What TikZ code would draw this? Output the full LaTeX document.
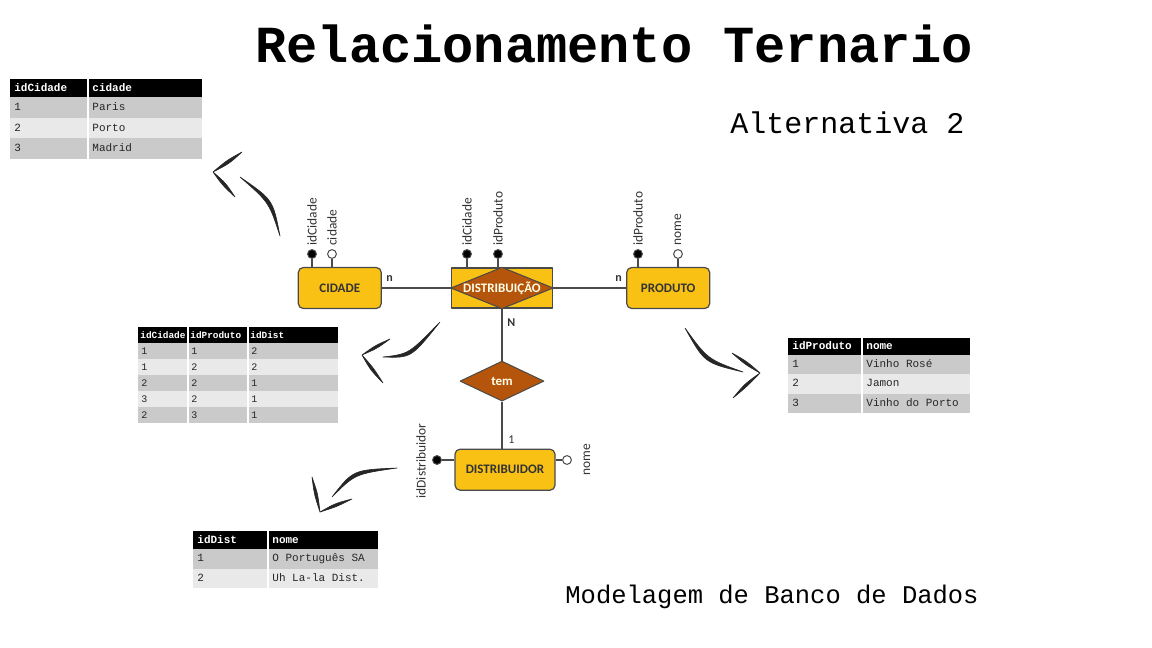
\documentclass[tikz,border=0pt]{standalone}
\usepackage{fontspec}
\setmainfont{Carlito}
\setmonofont{Liberation Mono}
\usetikzlibrary{shapes.geometric, positioning, calc}

\definecolor{erYellow}{HTML}{F8C114}
\definecolor{erBrown}{HTML}{B4550B}
\definecolor{erLine}{HTML}{4A4A4A}
\definecolor{rowDark}{HTML}{CACACA}
\definecolor{rowLight}{HTML}{E9E9E9}
\definecolor{inkGray}{HTML}{333333}

\tikzstyle{entity} = [rectangle, rounded corners=2.5pt, draw=erLine, line width=0.6pt, fill=erYellow, minimum width=41.5pt, minimum height=20.5pt, text=inkGray, font=\fontsize{6.5}{7}\selectfont\bfseries]
\tikzstyle{assoc} = [rectangle, draw=erLine, line width=0.6pt, fill=erYellow, minimum width=50.5pt, minimum height=20pt, inner sep=0pt]
\tikzstyle{relation} = [diamond, draw=erLine, line width=0.5pt, fill=erBrown, minimum width=42pt, minimum height=20pt, inner sep=0pt, text=white!90!yellow, font=\fontsize{6.5}{7}\selectfont\bfseries]
\tikzstyle{reltext} = [inner sep=0pt, text=white!90!yellow, font=\fontsize{6.5}{7}\selectfont\bfseries]
\tikzstyle{attrdot} = [circle, draw=erLine, line width=0.5pt, minimum size=4.4pt, inner sep=0pt]
\tikzstyle{attrname} = [rotate=90, anchor=west, inner sep=1.5pt, text=inkGray, font=\fontsize{6.7}{7}\selectfont]
\tikzstyle{link} = [draw=erLine, line width=0.6pt]
\tikzstyle{card} = [inner sep=1pt, text=inkGray, font=\fontsize{6}{7}\selectfont\bfseries]
\tikzstyle{thead} = [anchor=west, inner sep=0pt, text height=4pt, text depth=1pt, text=white, font=\ttfamily\bfseries\fontsize{5.5}{6}\selectfont]
\tikzstyle{tcell} = [anchor=west, inner sep=0pt, text height=4pt, text depth=1pt, text=black!85, font=\ttfamily\fontsize{5.5}{6}\selectfont]
\tikzstyle{inkstroke} = [fill=black!85, draw=black!85, line width=0.3pt]

% tapered hand-drawn stroke: start, end, control, half offset
\newcommand{\brush}[4]{\fill[inkstroke] (#1) .. controls ($(#3)+(#4)$) .. (#2) .. controls ($(#3)-(#4)$) .. (#1) -- cycle;}

\begin{document}
\begin{tikzpicture}[x=0.5pt, y=-0.5pt, line join=round]
\useasboundingbox (0,0) rectangle (1152,648);
\fill[white] (0,0) rectangle (1152,648);

% titles
\node (title) [anchor=base west, inner sep=0pt, font=\ttfamily\bfseries\fontsize{26}{30}\selectfont] at (255,62) {Relacionamento Ternario};
\node (alt) [anchor=base west, inner sep=0pt, font=\ttfamily\fontsize{15}{18}\selectfont] at (730,133) {Alternativa 2};
\node (rodape) [anchor=base west, inner sep=0pt, font=\ttfamily\fontsize{12.75}{15}\selectfont] at (565,603) {Modelagem de Banco de Dados};

% ER model
\node (distrib) [assoc] at (502,288) {};
\filldraw[fill=erBrown, draw=erLine, line width=0.5pt] (distrib.west) -- (distrib.north) -- (distrib.east) -- (distrib.south) -- cycle;
\node (distribtxt) [reltext] at (distrib) {DISTRIBUIÇÃO};
\node (cidade) [entity, left=34.5pt of distrib] {CIDADE};
\node (produto) [entity, right=36.5pt of distrib] {PRODUTO};
\node (tem) [relation, below=26pt of distrib] {tem};
\node (distribuidor) [entity, below=23.5pt of tem, minimum width=50pt, xshift=1.5pt] {DISTRIBUIDOR};

\draw [link] (cidade) -- (distrib);
\draw [link] (distrib) -- (produto);
\draw [link] (distrib) -- (tem);
\coordinate (temfoot) at (tem.south |- distribuidor.north);
\draw [link] (tem) -- (temfoot);

\node (cardcid) [card, above right=2pt and 1pt of cidade.east] {n};
\node (cardprod) [card, above left=2pt and 1pt of produto.west] {n};
\node (cardN) [card, below right=4pt and 1.5pt of distrib.south] {N};
\node (card1) [card, font=\fontsize{6}{7}\selectfont, above right=1.5pt and 2pt of temfoot] {1};

% attributes
\foreach \nm/\x/\fc/\ent/\txt in {acid1/312/black/cidade/idCidade, acid2/332/white/cidade/cidade, adis1/467/black/distrib/idCidade, adis2/498/black/distrib/idProduto, apro1/638/black/produto/idProduto, apro2/678/white/produto/nome}
{
  \node (\nm) [attrdot, fill=\fc] at (\x,254) {};
  \draw [link] (\nm) -- (\nm |- \ent.north);
  \node (\nm-t) [attrname] at (\nm.north) {\txt};
}
\node (adb1) [attrdot, fill=black] at (437,460) {};
\draw [link] (adb1) -- (adb1 -| distribuidor.west);
\node (adb1-t) [attrname, anchor=center] at (421,461) {idDistribuidor};
\node (adb2) [attrdot, fill=white] at (567,460) {};
\draw [link] (adb2) -- (adb2 -| distribuidor.east);
\node (adb2-t) [attrname, anchor=center] at (587,460) {nome};

% table cidade
\fill[black] (10,79) rectangle (202,97);
\foreach \y/\c in {97/rowDark, 117.7/rowLight, 138.4/rowDark}
  \fill[fill=\c] (10,\y) rectangle (202,\y+20.7);
\draw[white, line width=0.6pt] (88,79) -- (88,159);
\node (tc-h1) [thead] at (14,88) {idCidade};
\node (tc-h2) [thead] at (92,88) {cidade};
\foreach \a/\b [count=\r] in {1/Paris, 2/Porto, 3/Madrid}
{
  \node (tc-\r a) [tcell] at (14,{107.3+20.7*(\r-1)}) {\a};
  \node (tc-\r b) [tcell] at (92,{107.3+20.7*(\r-1)}) {\b};
}

% table distribuicao
\fill[black] (138,327) rectangle (338,343);
\foreach \y/\c in {343/rowDark, 359/rowLight, 375/rowDark, 391/rowLight, 407/rowDark}
  \fill[fill=\c] (138,\y) rectangle (338,\y+16);
\draw[white, line width=0.6pt] (188,327) -- (188,423) (248,327) -- (248,423);
\node (td-h1) [thead, font=\ttfamily\bfseries\fontsize{4.7}{5}\selectfont] at (140,335) {idCidade};
\node (td-h2) [thead, font=\ttfamily\bfseries\fontsize{4.7}{5}\selectfont] at (190,335) {idProduto};
\node (td-h3) [thead, font=\ttfamily\bfseries\fontsize{4.7}{5}\selectfont] at (250,335) {idDist};
\foreach \a/\b/\d [count=\r] in {1/1/2, 1/2/2, 2/2/1, 3/2/1, 2/3/1}
{
  \node (td-\r a) [tcell, font=\ttfamily\fontsize{5}{6}\selectfont] at (141,{351+16*(\r-1)}) {\a};
  \node (td-\r b) [tcell, font=\ttfamily\fontsize{5}{6}\selectfont] at (191,{351+16*(\r-1)}) {\b};
  \node (td-\r c) [tcell, font=\ttfamily\fontsize{5}{6}\selectfont] at (251,{351+16*(\r-1)}) {\d};
}

% table produto
\fill[black] (788,338) rectangle (970,355);
\foreach \y/\c in {355/rowDark, 374.3/rowLight, 393.6/rowDark}
  \fill[fill=\c] (788,\y) rectangle (970,\y+19.3);
\draw[white, line width=0.6pt] (862,338) -- (862,413);
\node (tp-h1) [thead] at (792,346.5) {idProduto};
\node (tp-h2) [thead] at (866,346.5) {nome};
\foreach \a/\b [count=\r] in {1/Vinho Rosé, 2/Jamon, 3/Vinho do Porto}
{
  \node (tp-\r a) [tcell] at (792,{364.6+19.3*(\r-1)}) {\a};
  \node (tp-\r b) [tcell] at (866,{364.6+19.3*(\r-1)}) {\b};
}

% table distribuidor
\fill[black] (193,531) rectangle (378,549);
\foreach \y/\c in {549/rowDark, 568.5/rowLight}
  \fill[fill=\c] (193,\y) rectangle (378,\y+19.5);
\draw[white, line width=0.6pt] (268,531) -- (268,588);
\node (tb-h1) [thead] at (197,540) {idDist};
\node (tb-h2) [thead] at (272,540) {nome};
\foreach \a/\b [count=\r] in {1/O Português SA, 2/Uh La-la Dist.}
{
  \node (tb-\r a) [tcell] at (197,{558.7+19.5*(\r-1)}) {\a};
  \node (tb-\r b) [tcell] at (272,{558.7+19.5*(\r-1)}) {\b};
}

% hand-drawn arrows
\brush{280,236}{240,177}{271,201}{2.0,-1.3}
\brush{213,172}{242,152}{228,162}{1.2,1.7}
\brush{213,172}{235,197}{224,184}{1.5,-1.3}

\brush{440,322}{383,357}{410,356}{1.2,2.0}
\brush{362,355}{390,339}{376,347}{0.9,1.5}
\brush{362,355}{383,383}{372,369}{1.5,-1.1}

\brush{397,468}{332,497}{354,472}{-1.0,-2.1}
\brush{320,512}{312,477}{316,494}{1.8,-0.4}
\brush{320,512}{352,499}{336,505}{0.7,1.7}

\brush{685,328}{743,372}{706,361}{-1.5,1.9}
\brush{760,373}{732,353}{746,363}{-1.0,1.5}
\brush{760,373}{733,398}{746,385}{-1.2,-1.3}
\end{tikzpicture}
\end{document}
